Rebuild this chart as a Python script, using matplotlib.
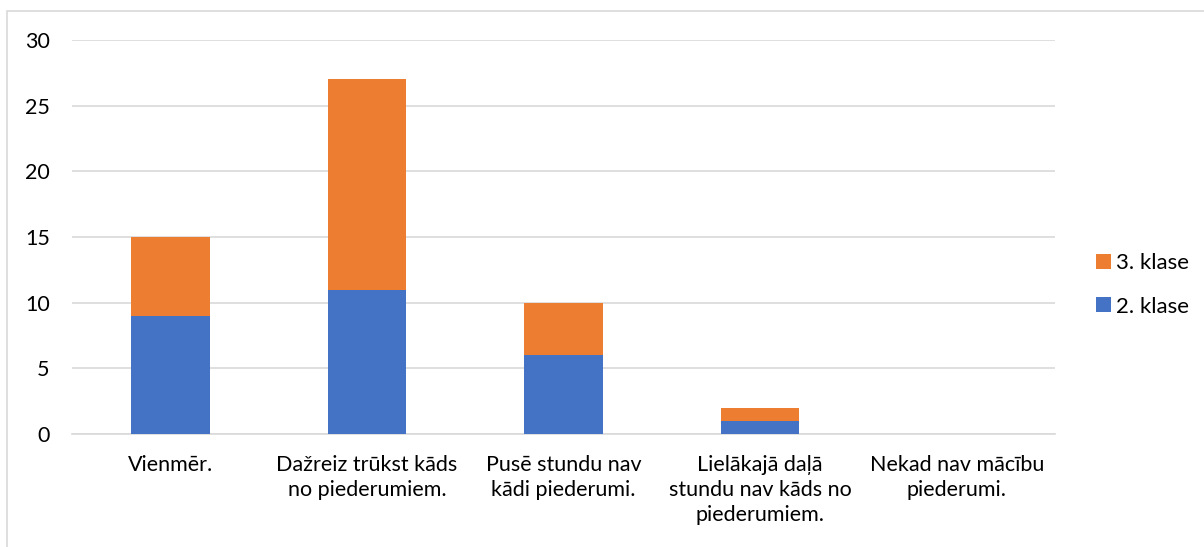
import matplotlib.pyplot as plt
from matplotlib.patches import Rectangle

# Data
categories = [
    'Vienmēr.',
    'Dažreiz trūkst kāds\nno piederumiem.',
    'Pusē stundu nav\nkādi piederumi.',
    'Lielākajā daļā\nstundu nav kāds no\npiederumiem.',
    'Nekad nav mācību\npiederumi.',
]
klase2 = [9, 11, 6, 1, 0]
klase3 = [6, 16, 4, 1, 0]

BLUE = '#4472C4'
ORANGE = '#ED7D31'

plt.rcParams['font.family'] = ['Lato', 'DejaVu Sans']

fig = plt.figure(figsize=(12.04, 5.47), dpi=100)
ax = fig.add_axes([72 / 1204, 1 - 434 / 547, (1055 - 72) / 1204, (434 - 40) / 547])

x = list(range(len(categories)))
ax.bar(x, klase2, width=0.4, color=BLUE, label='2. klase', zorder=3)
ax.bar(x, klase3, width=0.4, bottom=klase2, color=ORANGE, label='3. klase', zorder=3)

ax.set_xlim(-0.5, len(categories) - 0.5)
ax.set_ylim(0, 30)
ax.set_yticks(range(0, 31, 5))
ax.yaxis.grid(True, color='#D9D9D9', linewidth=1.2, zorder=0)
ax.set_xticks(x)
ax.set_xticklabels(categories, fontsize=15.5, color='#000000', linespacing=1.32)
ax.tick_params(axis='y', labelsize=15.5, length=0, pad=16)
ax.tick_params(axis='x', length=0, pad=15)
for s in ['top', 'right', 'left']:
    ax.spines[s].set_visible(False)
ax.spines['bottom'].set_color('#D9D9D9')
ax.spines['bottom'].set_linewidth(1.2)

handles, labels = ax.get_legend_handles_labels()
fig.legend(handles[::-1], labels[::-1], loc='center left',
           bbox_to_anchor=(1085 / 1204, 1 - 285 / 547), frameon=False,
           fontsize=16, handlelength=0.65, handleheight=0.65,
           handletextpad=0.25, labelspacing=1.05, borderpad=0)

fig.patches.append(Rectangle((7 / 1204, -0.1), 1.2, 1.1 - 11 / 547,
                             transform=fig.transFigure, fill=False,
                             edgecolor='#D9D9D9', linewidth=1.2))

fig.savefig('out.png', dpi=100)
